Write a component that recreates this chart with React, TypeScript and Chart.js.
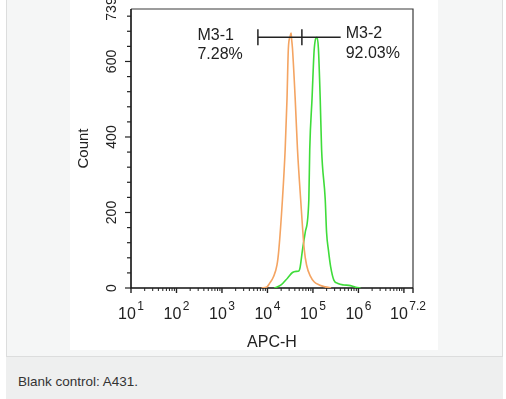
import React, { useEffect, useRef } from "react";
import { Chart, registerables } from "chart.js";

Chart.register(...registerables);

// ---- data (x values are log10 of APC-H intensity) ----
const xDecades = [1, 2, 3, 4, 5, 6, 7];
const xMaxExp = 7.2;
const xLabelExps = [1, 2, 3, 4, 5, 6, 7.2];
const xTickLabels = ["1", "2", "3", "4", "5", "6", "7.2"];
const yMax = 739;
const yMajorTicks = [0, 200, 400, 600];
const yTickLabels = [0, 200, 400, 600, 739];
const yMinorStep = 40;

// Blank control (orange)
const blankX = [3.87, 3.99, 4.05, 4.13, 4.21, 4.25, 4.33, 4.39, 4.43, 4.46, 4.5, 4.52, 4.53, 4.55, 4.61, 4.66, 4.73, 4.81, 4.86, 4.94, 5.03, 5.14, 5.27, 5.4];
const blankY = [0, 3, 13, 29, 61, 101, 235, 368, 501, 635, 667, 675, 661, 635, 501, 368, 235, 101, 61, 32, 16, 8, 3, 0];

// Sample (green)
const sampleX = [4.15, 4.3, 4.44, 4.55, 4.63, 4.69, 4.72, 4.77, 4.83, 4.91, 4.93, 4.98, 5.03, 5.09, 5.12, 5.16, 5.19, 5.27, 5.3, 5.34, 5.39, 5.46, 5.55, 5.68, 5.79, 5.94, 6.05];
const sampleY = [0, 8, 26, 41, 44, 45, 56, 101, 147, 235, 368, 501, 635, 664, 635, 501, 368, 235, 147, 101, 56, 21, 12, 8, 7, 2, 0];

// Gate markers
const gateBounds = [3.79, 4.757, 5.61];
const gateLevel = 664;
const gateNames = ["M3-1", "M3-2"];
const gatePercents = ["7.28%", "92.03%"];

const xTitle = "APC-H";
const yTitle = "Count";
const caption = "Blank control: A431.";

const FONT = '"Liberation Sans", Arial, Helvetica, sans-serif';

const flowPlugin = {
  id: "flowAxes",
  beforeDatasetsDraw(chart: any) {
    const { ctx, chartArea: a, scales } = chart;
    const xs = scales.x;
    const ys = scales.y;
    ctx.save();
    // frame top/right
    ctx.strokeStyle = "#3a3a3a";
    ctx.lineWidth = 1.2;
    ctx.beginPath();
    ctx.moveTo(a.left, a.top);
    ctx.lineTo(a.right, a.top);
    ctx.lineTo(a.right, a.bottom);
    ctx.stroke();
    // axes
    ctx.strokeStyle = "#111";
    ctx.lineWidth = 1.6;
    ctx.beginPath();
    ctx.moveTo(a.left, a.top);
    ctx.lineTo(a.left, a.bottom);
    ctx.lineTo(a.right, a.bottom);
    ctx.stroke();

    // y ticks
    ctx.lineWidth = 1.2;
    ctx.strokeStyle = "#222";
    for (let v = 0; v <= yMax; v += yMinorStep) {
      const py = ys.getPixelForValue(v);
      const major = yMajorTicks.includes(v);
      ctx.beginPath();
      ctx.moveTo(a.left - (major ? 6 : 4), py);
      ctx.lineTo(a.left, py);
      ctx.stroke();
    }
    // y labels
    ctx.fillStyle = "#222";
    ctx.font = `14px ${FONT}`;
    ctx.textAlign = "center";
    ctx.textBaseline = "middle";
    yTickLabels.forEach((v) => {
      const py = ys.getPixelForValue(v);
      ctx.save();
      ctx.translate(a.left - 18.5, py);
      ctx.rotate(-Math.PI / 2);
      ctx.fillText(String(v), 0, 0);
      ctx.restore();
    });
    // y title
    ctx.save();
    ctx.font = `15px ${FONT}`;
    ctx.translate(a.left - 47, (a.top + a.bottom) / 2);
    ctx.rotate(-Math.PI / 2);
    ctx.fillText(yTitle, 0, 0);
    ctx.restore();

    // x ticks
    ctx.strokeStyle = "#222";
    const majors = [...xDecades, xMaxExp];
    majors.forEach((e) => {
      const px = xs.getPixelForValue(e);
      ctx.lineWidth = 1.4;
      ctx.beginPath();
      ctx.moveTo(px, a.bottom);
      ctx.lineTo(px, a.bottom + 5);
      ctx.stroke();
    });
    ctx.lineWidth = 1;
    xDecades.forEach((e) => {
      for (let k = 2; k <= 9; k++) {
        const v = e + Math.log10(k);
        if (v >= xMaxExp) break;
        const px = xs.getPixelForValue(v);
        ctx.beginPath();
        ctx.moveTo(px, a.bottom);
        ctx.lineTo(px, a.bottom + 3);
        ctx.stroke();
      }
    });
    // x labels 10^n
    ctx.textBaseline = "alphabetic";
    ctx.textAlign = "left";
    xLabelExps.forEach((e, i) => {
      const px = xs.getPixelForValue(e);
      const sup = xTickLabels[i];
      ctx.font = `16px ${FONT}`;
      const wb = ctx.measureText("10").width;
      ctx.font = `12px ${FONT}`;
      const ws = ctx.measureText(sup).width;
      const total = wb + 1.5 + ws;
      const x0 = i === xLabelExps.length - 1 ? px - 23 : px - total / 2;
      ctx.font = `16px ${FONT}`;
      ctx.fillText("10", x0, a.bottom + 30.5);
      ctx.font = `12px ${FONT}`;
      ctx.fillText(sup, x0 + wb + 1.5, a.bottom + 22);
    });
    // x title
    ctx.font = `16px ${FONT}`;
    ctx.textAlign = "center";
    ctx.fillText(xTitle, (a.left + a.right) / 2, a.bottom + 58.5);
    ctx.restore();
  },
  afterDatasetsDraw(chart: any) {
    const { ctx, scales } = chart;
    const xs = scales.x;
    const ys = scales.y;
    const py = ys.getPixelForValue(gateLevel);
    const [g0, g1, g2] = gateBounds.map((v) => xs.getPixelForValue(v));
    ctx.save();
    ctx.strokeStyle = "#222";
    ctx.lineWidth = 1.5;
    ctx.beginPath();
    ctx.moveTo(g0, py);
    ctx.lineTo(g2, py);
    ctx.moveTo(g0, py - 8);
    ctx.lineTo(g0, py + 8);
    ctx.moveTo(g1, py - 8);
    ctx.lineTo(g1, py + 8);
    ctx.stroke();
    ctx.fillStyle = "#222";
    ctx.font = `16px ${FONT}`;
    ctx.textAlign = "left";
    ctx.textBaseline = "alphabetic";
    ctx.fillText(gateNames[0], g0 - 60.5, py + 3);
    ctx.fillText(gatePercents[0], g0 - 60.5, py + 22);
    ctx.fillText(gateNames[1], g2 + 5, py + 1);
    ctx.fillText(gatePercents[1], g2 + 5, py + 21);
    ctx.restore();
  },
};

function FlowChart() {
  const ref = useRef<HTMLCanvasElement | null>(null);
  useEffect(() => {
    if (!ref.current) return;
    const chart = new Chart(ref.current, {
      type: "line",
      data: {
        datasets: [
          {
            label: "Blank",
            data: blankX.map((x, i) => ({ x, y: blankY[i] })),
            borderColor: "#f4a462",
            borderWidth: 1.6,
            pointRadius: 0,
            cubicInterpolationMode: "monotone",
            fill: false,
          },
          {
            label: "Sample",
            data: sampleX.map((x, i) => ({ x, y: sampleY[i] })),
            borderColor: "#3fdc3a",
            borderWidth: 1.6,
            pointRadius: 0,
            cubicInterpolationMode: "monotone",
            fill: false,
          },
        ],
      },
      options: {
        animation: false,
        responsive: false,
        devicePixelRatio: 1,
        layout: { padding: { left: 61, right: 25, top: 9, bottom: 62 } },
        plugins: { legend: { display: false }, tooltip: { enabled: false } },
        scales: {
          x: { type: "linear", min: 1, max: xMaxExp, display: false },
          y: { type: "linear", min: 0, max: yMax, display: false },
        },
      },
      plugins: [flowPlugin],
    } as any);
    return () => chart.destroy();
  }, []);
  return <canvas ref={ref} width={368} height={350} style={{ display: "block" }} />;
}

export default function App() {
  return (
    <div style={{ position: "fixed", left: 0, top: 0, width: 506, height: 399, background: "#ffffff", overflow: "hidden" }}>
      <div
        style={{
          position: "absolute",
          left: 6,
          top: -1,
          width: 497,
          height: 358,
          boxSizing: "border-box",
          border: "1px solid #dcdddd",
          background: "#f5f6f6",
        }}
      />
      <div style={{ position: "absolute", left: 70, top: 0, width: 368, height: 350, background: "#ffffff" }}>
        <FlowChart />
      </div>
      <div style={{ position: "absolute", left: 6, top: 357, width: 497, height: 42, background: "#eeefef" }} />
      <div
        style={{
          position: "absolute",
          left: 18,
          top: 374,
          fontFamily: FONT,
          fontSize: 13.5,
          lineHeight: "16px",
          color: "#333",
          whiteSpace: "nowrap",
        }}
      >
        {caption}
      </div>
    </div>
  );
}
